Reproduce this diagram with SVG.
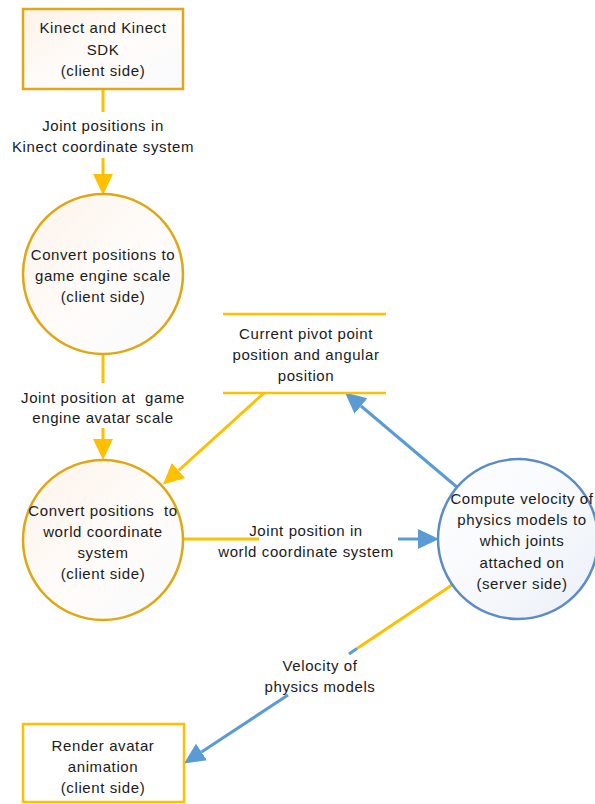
<svg xmlns="http://www.w3.org/2000/svg" width="595" height="804" viewBox="0 0 595 804">
<style>
text{font-family:"Liberation Sans",Arial,sans-serif;font-size:15px;fill:#1a1a1a;text-anchor:middle;letter-spacing:0.6px}
.ybox{fill:url(#gOr);stroke:#E2A616;stroke-width:2.5}
.ybox2{fill:#fff;stroke:#FFC000;stroke-width:2.5}
.ycirc{fill:url(#gOr);stroke:#E0A712;stroke-width:2.5}
.bcirc{fill:url(#gBl);stroke:#5B8CC6;stroke-width:2.5}
.yl{stroke:#FFC000;stroke-width:3;fill:none}
.bl{stroke:#5B9BD5;stroke-width:3;fill:none}
.store{stroke:#FFC000;stroke-width:2.5}
</style>
<defs>
<linearGradient id="gOr" x1="0" y1="0" x2="1" y2="1">
<stop offset="0" stop-color="#FDF3EA"/>
<stop offset="0.55" stop-color="#FFFCFA"/>
<stop offset="1" stop-color="#F8FAFD"/>
</linearGradient>
<linearGradient id="gBl" x1="0" y1="0" x2="1" y2="1">
<stop offset="0" stop-color="#FFFFFF"/>
<stop offset="0.5" stop-color="#F7F9FC"/>
<stop offset="1" stop-color="#EBF0F8"/>
</linearGradient>
<marker id="ay" markerUnits="userSpaceOnUse" markerWidth="22" markerHeight="22" refX="0" refY="10" orient="auto" viewBox="0 0 22 20">
<path d="M0,0 L21,10 L0,20 z" fill="#FFC000"/>
</marker>
<marker id="ab" markerUnits="userSpaceOnUse" markerWidth="22" markerHeight="22" refX="0" refY="10" orient="auto" viewBox="0 0 22 20">
<path d="M0,0 L21,10 L0,20 z" fill="#5B9BD5"/>
</marker>
</defs>

<g id="connectors">
<line class="yl" x1="103" y1="89" x2="103" y2="112"/>
<line class="yl" x1="103" y1="158" x2="103" y2="174" marker-end="url(#ay)"/>
<line class="yl" x1="103" y1="354" x2="103" y2="383"/>
<line class="yl" x1="103" y1="428" x2="103" y2="439" marker-end="url(#ay)"/>
<line class="yl" x1="264" y1="393" x2="178.5" y2="470.5" marker-end="url(#ay)"/>
<line class="yl" x1="184" y1="539" x2="259" y2="539"/>
<line class="bl" x1="398" y1="539" x2="418" y2="539" marker-end="url(#ab)"/>
<line class="bl" x1="458" y1="488" x2="361" y2="406" marker-end="url(#ab)"/>
<line class="yl" x1="455" y1="583" x2="357" y2="648.5"/>
<line class="bl" x1="357" y1="648.5" x2="349" y2="654"/>
<line class="bl" x1="288" y1="695" x2="201.5" y2="752" marker-end="url(#ab)"/>
<g id="label-kinect-joints">
<text x="103" y="131">Joint positions in</text>
<text x="103" y="152">Kinect coordinate system</text>
</g>
<g id="label-avatar-scale">
<text x="103" y="403">Joint position at&#160; game</text>
<text x="103" y="423">engine avatar scale</text>
</g>
<g id="label-world">
<text x="306" y="536">Joint position in</text>
<text x="306" y="557">world coordinate system</text>
</g>
<g id="label-velocity">
<text x="320" y="671">Velocity of</text>
<text x="320" y="692">physics models</text>
</g>
</g>

<g id="kinect">
<rect class="ybox" x="23" y="9" width="160" height="80"/>
<text x="103" y="33">Kinect and Kinect</text>
<text x="103" y="55">SDK</text>
<text x="103" y="76">(client side)</text>
</g>

<g id="convert-scale">
<circle class="ycirc" cx="103" cy="274" r="80"/>
<text x="103" y="260">Convert positions to</text>
<text x="103" y="281">game engine scale</text>
<text x="103" y="302">(client side)</text>
</g>

<g id="pivot-store">
<line class="store" x1="223" y1="314" x2="386" y2="314"/>
<line class="store" x1="223" y1="393" x2="386" y2="393"/>
<text x="306" y="339">Current pivot point</text>
<text x="306" y="360">position and angular</text>
<text x="306" y="381">position</text>
</g>

<g id="convert-world">
<circle class="ycirc" cx="103" cy="540" r="80"/>
<text x="103" y="516">Convert positions&#160; to</text>
<text x="103" y="537">world coordinate</text>
<text x="103" y="558">system</text>
<text x="103" y="579">(client side)</text>
</g>

<g id="compute-velocity">
<circle class="bcirc" cx="518" cy="539" r="80"/>
<text x="522" y="504">Compute velocity of</text>
<text x="522" y="525">physics models to</text>
<text x="522" y="546">which joints</text>
<text x="522" y="568">attached on</text>
<text x="522" y="589">(server side)</text>
</g>

<g id="render">
<rect class="ybox2" x="23" y="724" width="161" height="78"/>
<text x="103" y="751">Render avatar</text>
<text x="103" y="772">animation</text>
<text x="103" y="793">(client side)</text>
</g>
</svg>
